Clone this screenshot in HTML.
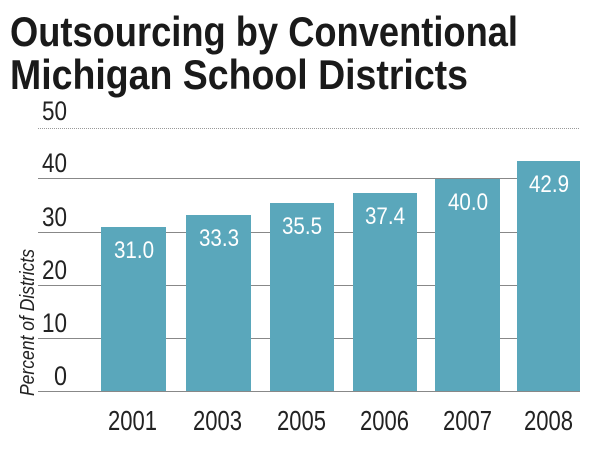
<!DOCTYPE html>
<html><head><style>
body{margin:0;background:#fff;}
svg text{font-family:"Liberation Sans",sans-serif;}
</style></head><body>
<svg width="600" height="446" viewBox="0 0 600 446" xmlns="http://www.w3.org/2000/svg">
<text x="10" y="46" font-size="42" font-weight="bold" fill="#1a1a1a" textLength="508" lengthAdjust="spacingAndGlyphs">Outsourcing by Conventional</text>
<text x="10" y="89" font-size="42" font-weight="bold" fill="#1a1a1a" textLength="458" lengthAdjust="spacingAndGlyphs">Michigan School Districts</text>
<line x1="38" y1="128.5" x2="580" y2="128.5" stroke="#999" stroke-width="1" stroke-dasharray="1,1"/>
<g stroke="#888" stroke-width="1">
<line x1="38" y1="178.5" x2="580" y2="178.5"/>
<line x1="38" y1="232.5" x2="580" y2="232.5"/>
<line x1="38" y1="285.5" x2="580" y2="285.5"/>
<line x1="38" y1="338.5" x2="580" y2="338.5"/>
<line x1="38" y1="391.5" x2="580" y2="391.5"/>
</g>
<g font-size="27" fill="#222" lengthAdjust="spacingAndGlyphs">
<text x="42" y="120" textLength="25" lengthAdjust="spacingAndGlyphs">50</text>
<text x="42" y="172" textLength="25" lengthAdjust="spacingAndGlyphs">40</text>
<text x="42" y="226" textLength="25" lengthAdjust="spacingAndGlyphs">30</text>
<text x="42" y="279" textLength="25" lengthAdjust="spacingAndGlyphs">20</text>
<text x="42" y="332" textLength="25" lengthAdjust="spacingAndGlyphs">10</text>
<text x="54" y="385" textLength="13" lengthAdjust="spacingAndGlyphs">0</text>
</g>
<text transform="translate(34,396) rotate(-90)" font-size="20" font-style="italic" fill="#222" textLength="147" lengthAdjust="spacingAndGlyphs">Percent of Districts</text>
<g fill="#5aa7bb">
<rect x="101" y="227" width="65" height="164"/>
<rect x="186" y="215" width="65" height="176"/>
<rect x="270" y="203" width="64" height="188"/>
<rect x="353" y="193" width="64" height="198"/>
<rect x="435" y="179" width="65" height="212"/>
<rect x="517" y="161" width="63" height="230"/>
</g>
<g font-size="24" fill="#fff">
<text x="114" y="258" textLength="40" lengthAdjust="spacingAndGlyphs">31.0</text>
<text x="199" y="246" textLength="40" lengthAdjust="spacingAndGlyphs">33.3</text>
<text x="282" y="234" textLength="40" lengthAdjust="spacingAndGlyphs">35.5</text>
<text x="365" y="224" textLength="40" lengthAdjust="spacingAndGlyphs">37.4</text>
<text x="448" y="210" textLength="40" lengthAdjust="spacingAndGlyphs">40.0</text>
<text x="529" y="192" textLength="40" lengthAdjust="spacingAndGlyphs">42.9</text>
</g>
<g font-size="28" fill="#222">
<text x="108" y="430" textLength="49" lengthAdjust="spacingAndGlyphs">2001</text>
<text x="193" y="430" textLength="49" lengthAdjust="spacingAndGlyphs">2003</text>
<text x="277" y="430" textLength="49" lengthAdjust="spacingAndGlyphs">2005</text>
<text x="360" y="430" textLength="49" lengthAdjust="spacingAndGlyphs">2006</text>
<text x="443" y="430" textLength="49" lengthAdjust="spacingAndGlyphs">2007</text>
<text x="524" y="430" textLength="49" lengthAdjust="spacingAndGlyphs">2008</text>
</g>
</svg>
</body></html>
